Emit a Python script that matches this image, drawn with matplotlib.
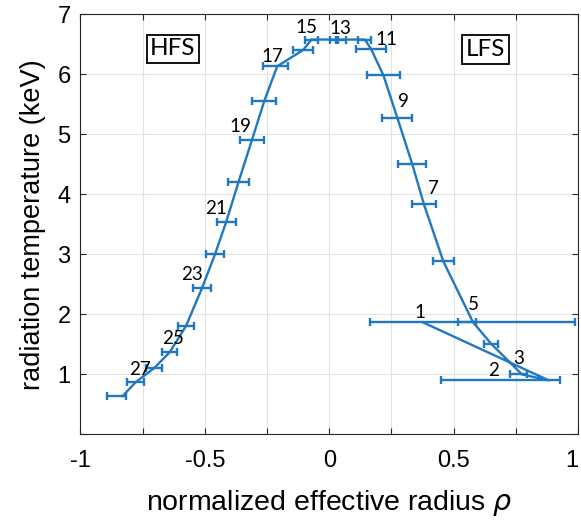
import numpy as np
import matplotlib
matplotlib.use('Agg')
import matplotlib.pyplot as plt

# ECE channels: radius, temperature, asymmetric radial error bars
channel = np.arange(1, 29)
rho = [0.375, 0.883, 0.775, 0.651, 0.578, 0.459, 0.381, 0.334, 0.274, 0.218,
       0.168, 0.143, 0.052, 0.014, -0.071, -0.105, -0.209, -0.261, -0.310, -0.364,
       -0.414, -0.459, -0.511, -0.575, -0.641, -0.705, -0.778, -0.830]
Te = [1.87, 0.90, 1.00, 1.51, 1.87, 2.88, 3.83, 4.50, 5.27, 5.98,
      6.42, 6.575, 6.575, 6.575, 6.575, 6.40, 6.13, 5.55, 4.91, 4.21,
      3.54, 3.00, 2.44, 1.81, 1.37, 1.10, 0.87, 0.64]
err_lo = [0.209, 0.432, 0.050, 0.028, 0.060, 0.042, 0.050, 0.057, 0.060, 0.066,
          0.062, 0.027, 0.017, 0.012, 0.027, 0.040, 0.056, 0.049, 0.047, 0.042,
          0.038, 0.037, 0.036, 0.031, 0.030, 0.032, 0.034, 0.064]
err_hi = [0.615, 0.043, 0.020, 0.028, 0.011, 0.042, 0.050, 0.057, 0.060, 0.066,
          0.062, 0.027, 0.017, 0.012, 0.027, 0.040, 0.044, 0.049, 0.047, 0.042,
          0.038, 0.037, 0.036, 0.031, 0.030, 0.032, 0.034, 0.012]

# channel numbers written next to the curve (label text, x, y)
labels = [('1', 0.364, 2.03), ('2', 0.661, 1.06), ('3', 0.763, 1.27),
          ('5', 0.581, 2.16), ('7', 0.420, 4.10), ('9', 0.297, 5.55),
          ('11', 0.232, 6.57), ('13', 0.045, 6.76), ('15', -0.09, 6.77),
          ('17', -0.228, 6.30), ('19', -0.359, 5.13), ('21', -0.453, 3.77),
          ('23', -0.553, 2.66), ('25', -0.626, 1.59), ('27', -0.762, 1.09)]

blue = '#1f78c1'
plt.rcParams['font.family'] = ['Liberation Sans', 'DejaVu Sans']

fig = plt.figure(figsize=(5.81, 5.25), dpi=100, facecolor='white')
ax = fig.add_axes([0.1384, 0.1724, 0.8564, 0.8009])

ax.errorbar(rho, Te, xerr=[err_lo, err_hi], fmt='-', color=blue, lw=1.7,
            elinewidth=1.7, capsize=3, capthick=1.7)

for txt, x, y in labels:
    ax.text(x, y, txt, fontsize=13.5, family='Lato', ha='center', va='center')

box = dict(boxstyle='square,pad=0.15', fc='white', ec='black', lw=1.3)
ax.text(-0.628, 6.42, 'HFS', fontsize=17.5, family='Lato', ha='center',
        va='center', bbox=box)
ax.text(0.628, 6.41, 'LFS', fontsize=17.5, family='Lato', ha='center',
        va='center', bbox=box)

ax.set_xlim(-1, 1)
ax.set_ylim(0, 7)
xt = np.arange(-1, 1.01, 0.25)
ax.set_xticks(xt)
ax.set_xticklabels(['-1', '', '-0.5', '', '0', '', '0.5', '', '1'])
ax.set_yticks(range(8))
ax.set_yticklabels([''] + [str(i) for i in range(1, 8)])
ax.tick_params(direction='in', length=4, width=0.8, top=True, right=True,
               labelsize=17, color='#262626')
ax.tick_params(axis='x', pad=11)
ax.tick_params(axis='y', pad=7)
ax.get_xticklabels()[-1].set_horizontalalignment('right')
ax.grid(True, color='#e3e3e3', lw=0.8)
ax.set_axisbelow(True)
for s in ax.spines.values():
    s.set_color('#262626')
    s.set_linewidth(0.8)

ax.set_xlabel(r'normalized effective radius $\rho$', fontsize=20.5, labelpad=12)
ax.set_ylabel('radiation temperature (keV)', fontsize=19.5, labelpad=8)

fig.savefig('out.png', dpi=100, facecolor='white')
